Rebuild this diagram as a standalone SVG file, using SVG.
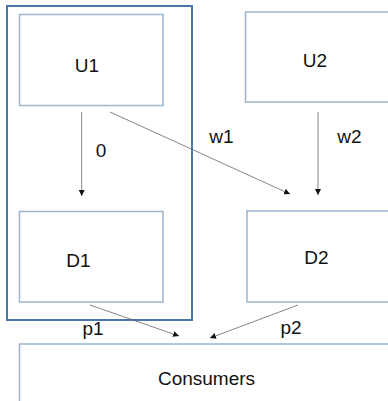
<svg xmlns="http://www.w3.org/2000/svg" width="388" height="401" viewBox="0 0 388 401">
  <style>
    .box { fill: #ffffff; stroke: #9db4cd; stroke-width: 1.5; }
    .group { fill: none; stroke: #4a76a6; stroke-width: 2; }
    .lbl { font-family: "Liberation Sans", Arial, sans-serif; font-size: 19px; fill: #111111; text-anchor: middle; }
    .edge { fill: none; stroke: #666666; stroke-width: 0.8; marker-end: url(#arrow); }
  </style>
  <defs>
    <marker id="arrow" viewBox="0 0 10 10" refX="10" refY="5" markerWidth="6" markerHeight="6" markerUnits="userSpaceOnUse" orient="auto">
      <path d="M0,0 L10,5 L0,10 z" fill="#111111"/>
    </marker>
  </defs>

  <rect width="388" height="401" fill="#ffffff"/>

  <!-- left column grouping frame -->
  <g id="group-left">
    <rect class="group" x="7" y="6" width="185" height="314"/>
  </g>

  <g id="node-u1">
    <rect class="box" x="19.5" y="14.5" width="143.5" height="91"/>
    <text class="lbl" x="87" y="72">U1</text>
  </g>

  <g id="node-u2">
    <rect class="box" x="245.5" y="12" width="160" height="90"/>
    <text class="lbl" x="315" y="67">U2</text>
  </g>

  <g id="node-d1">
    <rect class="box" x="19.5" y="211.5" width="143.5" height="90.5"/>
    <text class="lbl" x="78.5" y="267">D1</text>
  </g>

  <g id="node-d2">
    <rect class="box" x="247" y="211" width="160" height="91"/>
    <text class="lbl" x="316.5" y="264">D2</text>
  </g>

  <g id="node-consumers">
    <rect class="box" x="19.5" y="344" width="400" height="100"/>
    <text class="lbl" x="206.5" y="385">Consumers</text>
  </g>

  <g id="connectors">
    <line class="edge" x1="81.7" y1="112" x2="81.7" y2="196"/>
    <line class="edge" x1="110" y1="112" x2="290" y2="194"/>
    <line class="edge" x1="318" y1="112" x2="318" y2="195"/>
    <line class="edge" x1="90" y1="305" x2="179" y2="336"/>
    <line class="edge" x1="298" y1="305" x2="210" y2="338"/>
    <text class="lbl" x="101" y="157">0</text>
    <text class="lbl" x="221.5" y="143">w1</text>
    <text class="lbl" x="349.5" y="143">w2</text>
    <text class="lbl" x="93" y="335">p1</text>
    <text class="lbl" x="291" y="334">p2</text>
  </g>
</svg>
